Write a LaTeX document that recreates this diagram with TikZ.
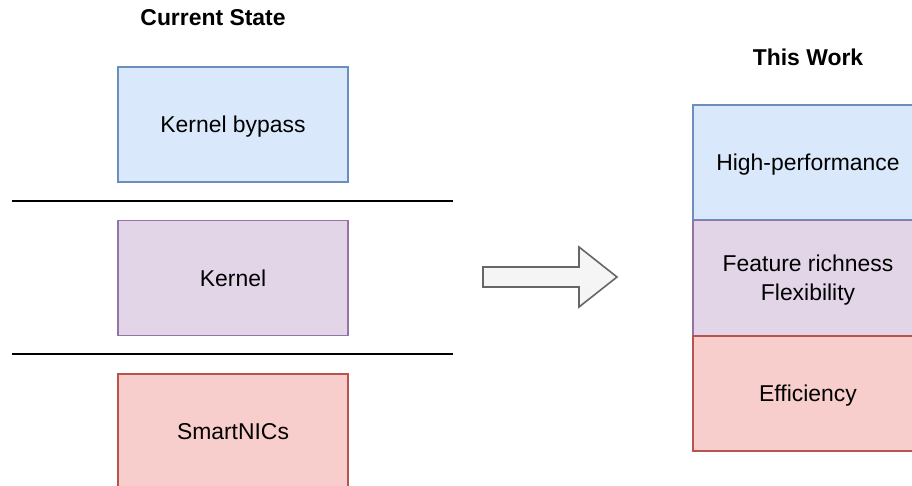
\documentclass[tikz,border=0pt]{standalone}
\usepackage{fontspec}
\setmainfont{Liberation Sans}
\usetikzlibrary{positioning}
\definecolor{bluefill}{HTML}{DAE8FC}
\definecolor{bluedraw}{HTML}{6C8EBF}
\definecolor{purpfill}{HTML}{E1D5E7}
\definecolor{purpdraw}{HTML}{9673A6}
\definecolor{redfill}{HTML}{F8CECC}
\definecolor{reddraw}{HTML}{B85450}
\definecolor{arrfill}{HTML}{F5F5F5}
\definecolor{arrdraw}{HTML}{666666}
\begin{document}
\begin{tikzpicture}[x=1pt,y=-1pt,
  box/.style={rectangle, minimum width=230pt, minimum height=115pt, inner sep=0pt, line width=1.6pt, align=center, text depth=0pt, font=\fontsize{22.9}{29}\selectfont},
  bluebox/.style={box, fill=bluefill, draw=bluedraw},
  purpbox/.style={box, fill=purpfill, draw=purpdraw},
  redbox/.style={box, fill=redfill, draw=reddraw},
  title/.style={font=\fontsize{22.9}{27}\selectfont\bfseries, inner sep=0pt},
  sep/.style={line width=1.8pt, black}]
\useasboundingbox (0,0) rectangle (912,486);
\fill[white] (0,0) rectangle (912,486);
% left column
\node[title] (t1) at (213,18) {Current State};
\node[bluebox] (kb) at (233,124.5) {Kernel bypass};
\node[purpbox] (kn) at (233,278) {Kernel};
\node[redbox] (sn) at (233,431.5) {SmartNICs};
\coordinate (l1a) at (12,201);
\coordinate (l1b) at (453,201);
\coordinate (l2a) at (12,354);
\coordinate (l2b) at (453,354);
\draw[sep] (l1a) -- (l1b);
\draw[sep] (l2a) -- (l2b);
% arrow
\draw[fill=arrfill, draw=arrdraw, line width=1.6pt, line join=miter]
  (483,267) -- (579,267) -- (579,247) -- (617,277) -- (579,307) -- (579,287) -- (483,287) -- cycle;
% right column
\node[title] (t2) at (808,57) {This Work};
\node[bluebox] (hp) at (808,162.5) {High-performance};
\node[purpbox] (fr) at (808,278) {Feature richness\\Flexibility};
\node[redbox] (ef) at (808,393.5) {Efficiency};
\end{tikzpicture}
\end{document}
